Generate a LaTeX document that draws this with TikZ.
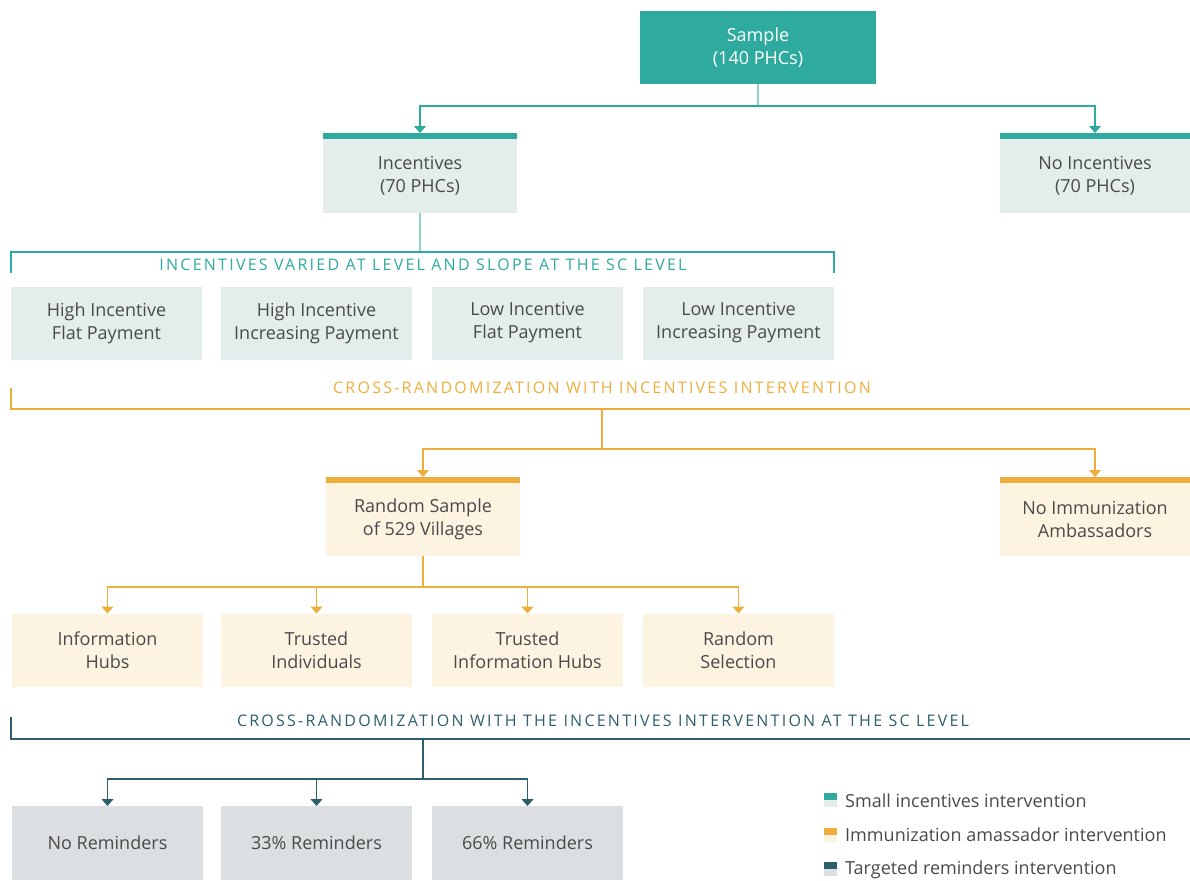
\documentclass[tikz,border=0pt]{standalone}
\usepackage{fontspec}
\setmainfont{Open Sans}
\usetikzlibrary{arrows.meta,positioning}
\definecolor{incteal}{HTML}{2EAA9E}
\definecolor{incstem}{HTML}{8ED2CA}
\definecolor{inclight}{HTML}{E3EEEC}
\definecolor{ambor}{HTML}{EFAE3C}
\definecolor{ambcream}{HTML}{FDF3E1}
\definecolor{remdark}{HTML}{2D5F6B}
\definecolor{remgrey}{HTML}{DCDFE1}
\definecolor{txt}{HTML}{4A4A4A}

\begin{document}
\begin{tikzpicture}[x=1pt,y=-1pt,
  font=\fontsize{18}{23}\selectfont,
  box/.style={minimum width=191pt,minimum height=73pt,inner sep=0pt,outer sep=0pt,align=center,text=txt},
  incbox/.style={box,fill=inclight},
  ambbox/.style={box,fill=ambcream},
  rembox/.style={box,fill=remgrey},
  caplbl/.style={inner sep=0pt,font=\fontsize{16}{18}\selectfont\addfontfeature{LetterSpace=14}},
  tip/.style={-{Triangle[width=12pt,length=7pt]}},
  arrinc/.style={draw=incteal,line width=1.2pt,tip},
  arramb/.style={draw=ambor,line width=1.2pt,tip},
  arrrem/.style={draw=remdark,line width=1.2pt,tip}]

\useasboundingbox (0,0) rectangle (1190,880);

% sample and first split
\node[box,fill=incteal,text=white,minimum width=236pt] (sample) at (758,47.5) {Sample\\(140 PHCs)};
\node[incbox,minimum width=194pt,minimum height=74pt] (inc) at (420,176) {Incentives\\(70 PHCs)};
\node[incbox,minimum width=190pt,minimum height=74pt] (noinc) at (1095,176) {No Incentives\\(70 PHCs)};
\fill[incteal] (inc.north west) rectangle ([yshift=6pt]inc.north east);
\fill[incteal] (noinc.north west) rectangle ([yshift=6pt]noinc.north east);

\draw[incstem,line width=1.2pt] (sample.south) -- ++(0,22);
\draw[arrinc] ([yshift=-22pt]sample.south) -| ([yshift=6pt]inc.north);
\draw[arrinc] ([yshift=-22pt]sample.south) -| ([yshift=6pt]noinc.north);

% incentive arms
\coordinate (incbr) at (0,252);
\draw[incstem,line width=1.2pt] (inc.south) -- (inc.south |- incbr);
\draw[incteal,line width=1.2pt] (11,273) |- (834,252) -- (834,273);
\node[caplbl,text=incteal] (inclbl) at (423,265) {INCENTIVES VARIED AT LEVEL AND SLOPE AT THE SC LEVEL};

\node[incbox] (hif) at (106.5,323) {High Incentive\\Flat Payment};
\node[incbox] (hii) at (316.5,323) {High Incentive\\Increasing Payment};
\node[incbox] (lof) at (527.5,323) {Low Incentive\\Flat Payment};
\node[incbox] (loi) at (738.5,323) {Low Incentive\\Increasing Payment};

% ambassadors
\draw[ambor,line width=1.2pt] (11,388) |- (1190,409);
\node[caplbl,text=ambor] (amblbl) at (602,388) {CROSS-RANDOMIZATION WITH INCENTIVES INTERVENTION};
\coordinate (ambstem) at (602,409);

\node[ambbox,minimum width=194pt,minimum height=73pt] (ran) at (423,519.5) {Random Sample\\of 529 Villages};
\node[ambbox,minimum width=190pt,minimum height=73pt] (noimm) at (1095,519.5) {No Immunization\\Ambassadors};
\fill[ambor] (ran.north west) rectangle ([yshift=6pt]ran.north east);
\fill[ambor] (noimm.north west) rectangle ([yshift=6pt]noimm.north east);

\draw[ambor,line width=1.2pt] (ambstem) -- ++(0,40);
\draw[arramb] ([yshift=-40pt]ambstem) -| ([yshift=6pt]ran.north);
\draw[arramb] ([yshift=-40pt]ambstem) -| ([yshift=6pt]noimm.north);

\node[ambbox] (hub) at (107.5,650) {Information\\Hubs};
\node[ambbox] (trind) at (316.5,650) {Trusted\\Individuals};
\node[ambbox] (trhub) at (527.5,650) {Trusted\\Information Hubs};
\node[ambbox] (rsel) at (738.5,650) {Random\\Selection};

\draw[ambor,line width=1.2pt] (ran.south) -- ++(0,31);
\draw[arramb] ([yshift=-31pt]ran.south) -| (hub.north);
\draw[arramb] ([yshift=-31pt]ran.south) -| (trind.north);
\draw[arramb] ([yshift=-31pt]ran.south) -| (trhub.north);
\draw[arramb] ([yshift=-31pt]ran.south) -| (rsel.north);

% reminders
\draw[remdark,line width=1.2pt] (11,717) |- (1190,739);
\node[caplbl,text=remdark] (remlbl) at (603,721) {CROSS-RANDOMIZATION WITH THE INCENTIVES INTERVENTION AT THE SC LEVEL};
\coordinate (remstem) at (423,739);

\node[rembox,minimum height=74pt] (norem) at (107.5,843) {No Reminders};
\node[rembox,minimum height=74pt] (rem33) at (316.5,843) {33\% Reminders};
\node[rembox,minimum height=74pt] (rem66) at (527.5,843) {66\% Reminders};

\draw[remdark,line width=1.2pt] (remstem) -- ++(0,40);
\draw[arrrem] ([yshift=-40pt]remstem) -| (norem.north);
\draw[arrrem] ([yshift=-40pt]remstem) -| (rem33.north);
\draw[arrrem] ([yshift=-40pt]remstem) -| (rem66.north);

% legend
\fill[incteal] (824,793) rectangle (837,800);
\fill[inclight] (824,800) rectangle (837,807);
\node[anchor=west,text=txt,inner sep=0pt] (leginc) at (845,801) {Small incentives intervention};
\fill[ambor] (824,828) rectangle (837,835);
\fill[ambcream] (824,835) rectangle (837,842);
\node[anchor=west,text=txt,inner sep=0pt] (legamb) at (845,835) {Immunization amassador intervention};
\fill[remdark] (824,862) rectangle (837,869);
\fill[remgrey] (824,869) rectangle (837,876);
\node[anchor=west,text=txt,inner sep=0pt] (legrem) at (845,870) {Targeted reminders intervention};

\end{tikzpicture}
\end{document}
